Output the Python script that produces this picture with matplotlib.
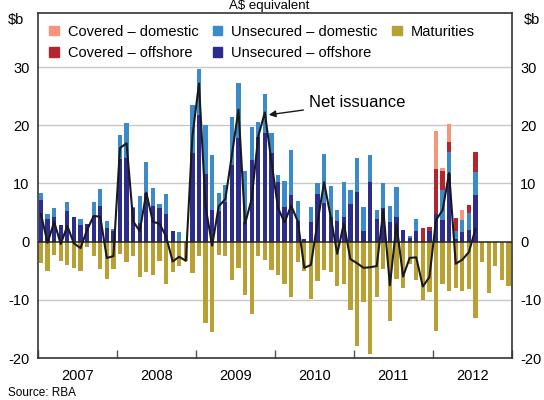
import numpy as np
import matplotlib.pyplot as plt
from matplotlib.patches import Patch

plt.rcParams['font.family'] = ['Liberation Sans', 'DejaVu Sans']
plt.rcParams['axes.unicode_minus'] = False

years = ['2007', '2008', '2009', '2010', '2011', '2012']

# monthly, $b, Jan 2007 - Jul 2012
unsec_off = [7.2, 3.9, 4.3, 2.9, 5.3, 4.3, 2.9, 3.0, 4.4, 6.1, 2.4, 1.8,
             14.2, 14.4, 5.7, 3.2, 8.4, 6.1, 5.7, 4.8, 1.8, 0.0, 0.0, 15.2,
             21.8, 11.7, 5.5, 5.2, 6.8, 13.1, 17.9, 3.4, 14.1, 18.0, 18.6, 15.2,
             10.2, 5.9, 8.1, 3.6, 0.4, 3.3, 8.2, 6.7, 4.3, 3.6, 4.3, 6.5,
             8.6, 1.9, 10.3, 3.9, 5.8, 3.3, 4.3, 2.0, 0.7, 1.8, 0.0, 1.8,
             4.7, 3.7, 11.7, 0.5, 1.7, 2.0, 8.0]
unsec_dom = [1.1, 0.9, 1.4, 0.0, 1.5, 0.0, 1.0, 0.0, 2.4, 2.9, 1.2, 0.4,
             4.1, 6.0, 0.3, 4.6, 5.3, 3.1, 0.8, 3.4, 0.0, 1.6, 0.0, 8.3,
             7.9, 8.3, 9.4, 3.2, 3.0, 8.4, 9.4, 8.8, 5.6, 2.6, 6.7, 3.5,
             1.3, 4.6, 7.7, 3.4, 0.1, 2.6, 1.8, 8.3, 5.2, 1.9, 6.0, 2.3,
             5.7, 4.0, 4.6, 1.5, 4.3, 2.9, 5.1, 0.0, 0.3, 2.1, 0.0, 0.0,
             0.0, 5.2, 3.7, 1.3, 2.0, 3.0, 3.9]
cov_off = [0.0] * 58 + [2.3, 0.8,
           7.8, 3.2, 1.7, 2.3, 0.0, 1.3, 3.5]
cov_dom = [0.0] * 60 + [6.6, 0.5, 3.1, 0.0, 1.7, 0.0, 0.0]

# Jan 2007 - Dec 2012
maturities = [-3.6, -5.0, -2.3, -3.3, -4.1, -4.6, -5.0, -1.0, -2.4, -4.7, -6.4, -4.7,
              -2.2, -3.5, -2.5, -6.0, -5.3, -5.8, -3.4, -7.3, -5.2, -4.2, -3.3, -5.4,
              -2.5, -14.0, -15.6, -2.3, -2.5, -6.6, -4.6, -9.1, -12.4, -2.5, -3.1, -4.9,
              -5.7, -7.2, -9.6, -3.5, -5.0, -9.9, -6.7, -4.8, -5.2, -7.6, -7.2, -11.8,
              -18.0, -10.4, -19.3, -9.6, -4.7, -13.7, -6.4, -8.0, -3.8, -6.6, -10.0, -8.7,
              -15.4, -7.2, -8.4, -7.9, -8.5, -8.1, -13.2, -3.5, -8.9, -4.2, -6.6, -7.7]

c_cd = '#F4967A'
c_ud = '#3B8BCB'
c_mat = '#B9A033'
c_co = '#B3262F'
c_uo = '#2C2C8C'

uo = np.array(unsec_off)
ud = np.array(unsec_dom)
co = np.array(cov_off)
cd = np.array(cov_dom)
mat = np.array(maturities)
n = len(uo)
# net issuance = all issuance less maturities
net = uo + ud + co + cd + mat[:n]

xi = np.arange(n) + 0.5
xm = np.arange(len(mat)) + 0.5
w = 0.64

fig = plt.figure(figsize=(5.44, 4.0), dpi=100)
ax = fig.add_axes([0.0693, 0.105, 0.8713, 0.8625])

ax.bar(xi, uo, w, color=c_uo, zorder=2)
ax.bar(xi, ud, w, bottom=uo, color=c_ud, zorder=2)
ax.bar(xi, co, w, bottom=uo + ud, color=c_co, zorder=2)
ax.bar(xi, cd, w, bottom=uo + ud + co, color=c_cd, zorder=2)
ax.bar(xm, mat, w, color=c_mat, zorder=2)
ax.axhline(0, color='#222222', lw=1.1, zorder=3)
ax.plot(xi, net, color='#1a1a1a', lw=1.5, zorder=4)

ax.set_xlim(0, 72)
ax.set_ylim(-20, 39.3)
ax.set_yticks([-20, -10, 0, 10, 20, 30])
for v in [-10, 10, 20, 30]:
    ax.axhline(v, color='#c8c8c8', lw=1.0, zorder=1)

ax.set_xticks(np.arange(0, 73, 12))
ax.set_xticklabels([])
ax.set_xticks(np.arange(6, 72, 12), minor=True)
ax.set_xticklabels(years, minor=True)
ax.tick_params(axis='x', which='major', direction='in', length=6, width=1, color='#555555')
ax.tick_params(axis='x', which='minor', length=0, labelsize=10.5, pad=8)
ax.tick_params(axis='y', length=0, labelsize=10.5, pad=6, labelright=True)
for s in ax.spines.values():
    s.set_color('#333333')
    s.set_linewidth(1.2)

fig.text(8 / 544, 1 - 20 / 400, '$b', fontsize=10.5, va='center', ha='left')
fig.text(540 / 544, 1 - 20 / 400, '$b', fontsize=10.5, va='center', ha='right')
fig.text(0.495, 1 - 9.5 / 400, 'A$ equivalent', fontsize=9.5, ha='center', va='baseline')
fig.text(8 / 544, 1 - 396 / 400, 'Source: RBA', fontsize=8.5, ha='left', va='baseline')

ax.annotate('Net issuance', xy=(35.1, 21.8), xytext=(41.2, 23.9),
            fontsize=12, va='center', ha='left',
            arrowprops=dict(arrowstyle='-|>', color='#1a1a1a', lw=1.0,
                            mutation_scale=10, shrinkA=2, shrinkB=0))

handles = [Patch(color=c_cd, label='Covered – domestic'),
           Patch(color=c_co, label='Covered – offshore'),
           Patch(color=c_ud, label='Unsecured – domestic'),
           Patch(color=c_uo, label='Unsecured – offshore'),
           Patch(color=c_mat, label='Maturities')]
ax.legend(handles=handles, ncol=3, loc='upper left', bbox_to_anchor=(0.0, 1.0),
          frameon=False, fontsize=10.5, handlelength=0.65, handleheight=0.65,
          handletextpad=0.6, columnspacing=1.0, labelspacing=0.5, borderpad=0.5,
          borderaxespad=0.3)

fig.savefig('out.png', dpi=100)
